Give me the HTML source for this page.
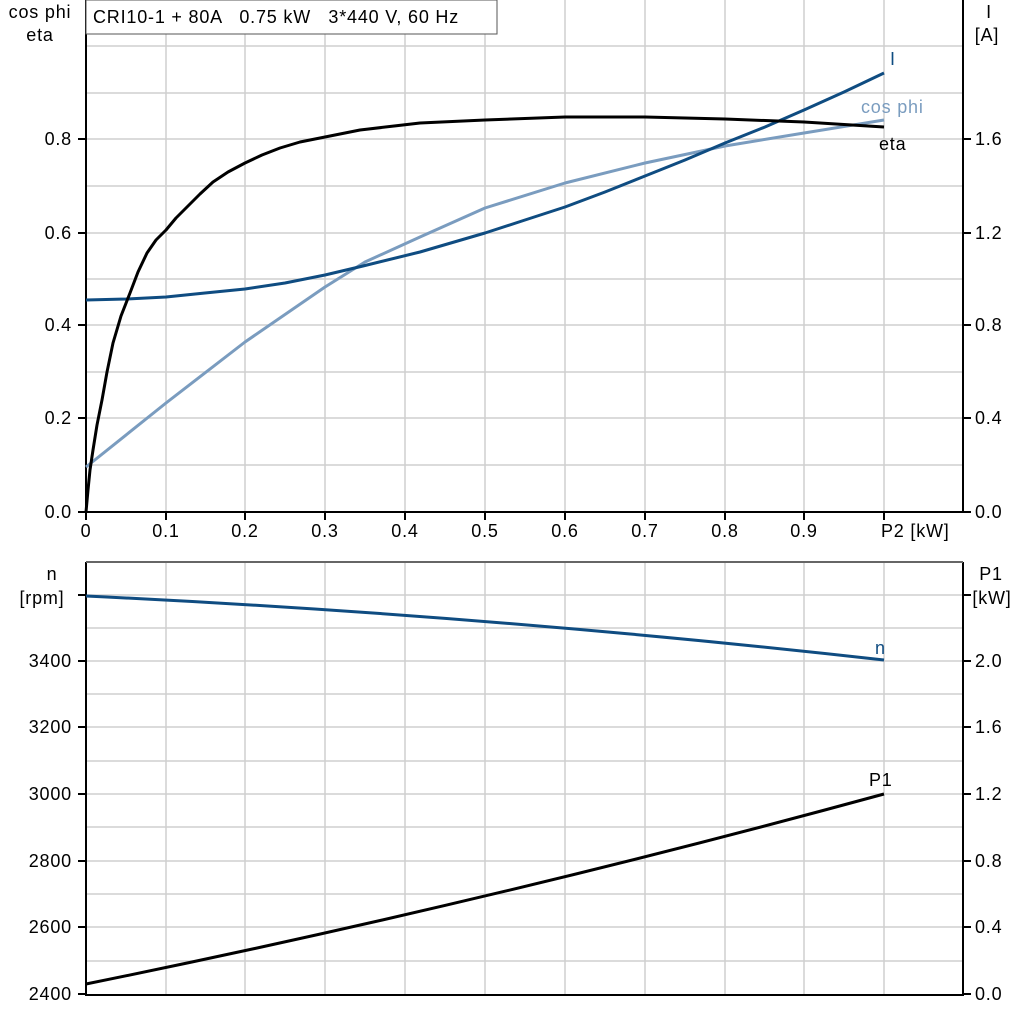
<!DOCTYPE html>
<html><head><meta charset="utf-8"><style>body{margin:0;background:#fff}svg{display:block}text{letter-spacing:0.8px}</style></head><body>
<svg width="1024" height="1024" xmlns="http://www.w3.org/2000/svg" font-family="Liberation Sans, sans-serif" font-size="18">
<g stroke="#cfcfcf" stroke-width="1.5">
<path d="M166 0V512M245 0V512M325 0V512M405 0V512M485 0V512M565 0V512M645 0V512M725 0V512M804 0V512M884 0V512"/>
<path d="M86 46H963M86 93H963M86 139H963M86 186H963M86 233H963M86 279H963M86 325H963M86 372H963M86 418H963M86 465H963"/>
<path d="M166 562V995M245 562V995M325 562V995M405 562V995M485 562V995M565 562V995M645 562V995M725 562V995M804 562V995M884 562V995"/>
<path d="M86 595H963M86 628H963M86 661H963M86 694H963M86 727H963M86 761H963M86 794H963M86 827H963M86 861H963M86 894H963M86 927H963M86 961H963"/>
</g>
<g stroke="#000" stroke-width="2" fill="none">
<path d="M86 0V512H963V0"/>
<path d="M86 562V995H963V562"/>
<path d="M78 512H86M78 418H86M78 325H86M78 233H86M78 139H86M963 512H971M963 418H971M963 325H971M963 233H971M963 139H971"/>
<path d="M86 512V520M166 512V520M245 512V520M325 512V520M405 512V520M485 512V520M565 512V520M645 512V520M725 512V520M804 512V520M884 512V520"/>
<path d="M78 595H86M78 661H86M78 727H86M78 794H86M78 861H86M78 927H86M78 994H86M963 595H971M963 661H971M963 727H971M963 794H971M963 861H971M963 927H971M963 994H971"/>
</g>
<path d="M86 562H963" stroke="#666" stroke-width="2"/>
<rect x="86" y="0" width="411" height="34" fill="#fff" stroke="#555" stroke-width="1"/>
<text x="93" y="23" xml:space="preserve" style="white-space:pre">CRI10-1 + 80A   0.75 kW   3*440 V, 60 Hz</text>
<g text-anchor="end">
<text x="72" y="518">0.0</text><text x="72" y="424">0.2</text><text x="72" y="331">0.4</text><text x="72" y="239">0.6</text><text x="72" y="145">0.8</text>
<text x="72" y="667">3400</text><text x="72" y="733">3200</text><text x="72" y="800">3000</text><text x="72" y="867">2800</text><text x="72" y="933">2600</text><text x="72" y="1000">2400</text>
</g>
<g text-anchor="start">
<text x="975" y="518">0.0</text><text x="975" y="424">0.4</text><text x="975" y="331">0.8</text><text x="975" y="239">1.2</text><text x="975" y="145">1.6</text>
<text x="975" y="667">2.0</text><text x="975" y="733">1.6</text><text x="975" y="800">1.2</text><text x="975" y="867">0.8</text><text x="975" y="933">0.4</text><text x="975" y="1000">0.0</text>
<text x="881" y="537">P2 [kW]</text>
</g>
<g text-anchor="middle">
<text x="86" y="537">0</text><text x="166" y="537">0.1</text><text x="245" y="537">0.2</text><text x="325" y="537">0.3</text><text x="405" y="537">0.4</text><text x="485" y="537">0.5</text><text x="565" y="537">0.6</text><text x="645" y="537">0.7</text><text x="725" y="537">0.8</text><text x="804" y="537">0.9</text>
<text x="40" y="18">cos phi</text><text x="40" y="41">eta</text>
<text x="989" y="18">I</text><text x="987" y="41">[A]</text>
<text x="52" y="580">n</text><text x="42" y="604">[rpm]</text>
<text x="991" y="580">P1</text><text x="992" y="604">[kW]</text>
</g>
<g fill="none" stroke-width="3" stroke-linejoin="round">
<polyline stroke="#7a9cbf" points="86,467 166,403 245,342 325,287 365,262 420,237 485,208 565,183 645,163 725,146 804,133 884,120"/>
<polyline stroke="#0f4c81" points="86,300 126,299 166,297 205,293 245,289 285,283 325,275 363,266 420,252 485,233 525,220 565,207 605,192 645,176 685,160 725,143 765,127 804,110 844,92 884,73"/>
<polyline stroke="#000" points="86,512 88,490 90,470 93,450 97,425 102,400 107,372 113,343 121,316 130,293 138,272 147,253 156,240 166,230 176,218 187,207 200,194 213,182 228,172 245,163 262,155 280,148 300,142 325,137 360,130 420,123 485,120 565,117 645,117 725,119 804,122 884,127"/>
<path stroke="#0f4c81" d="M86 596Q485 615 884 660"/>
<path stroke="#000" d="M86 984Q485 903 884 794"/>
</g>
<text x="890" y="65" fill="#0f4c81">I</text>
<text x="861" y="113" fill="#7a9cbf">cos phi</text>
<text x="879" y="150" fill="#000">eta</text>
<text x="875" y="654" fill="#0f4c81">n</text>
<text x="869" y="786" fill="#000">P1</text>
</svg>
</body></html>
